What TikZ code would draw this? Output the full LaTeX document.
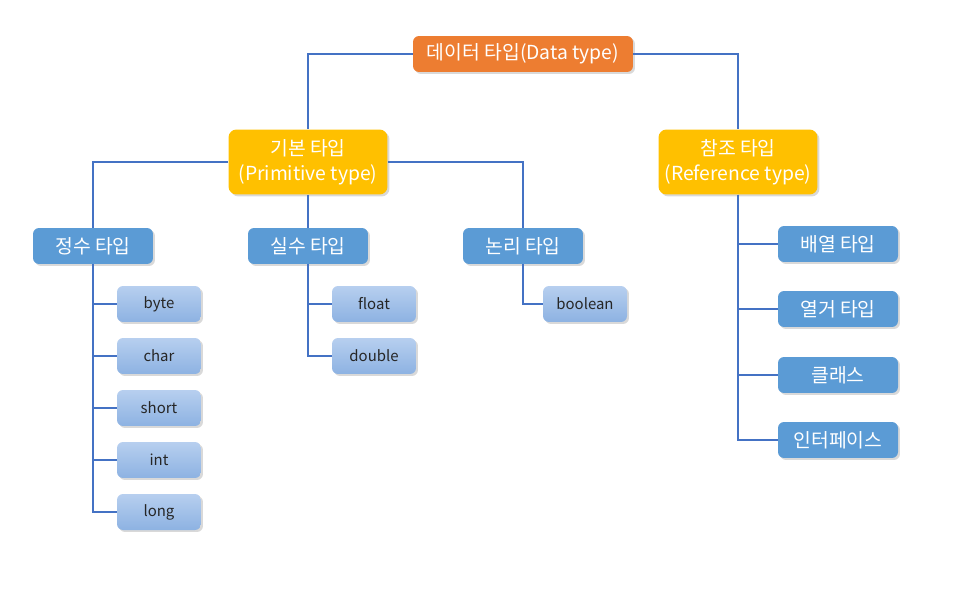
\documentclass[tikz,border=0pt]{standalone}
\usepackage{fontspec}
\setmainfont{Noto Sans CJK KR}
\usetikzlibrary{calc, shadows}
\definecolor{myorange}{HTML}{ED7D31}
\definecolor{myyellow}{HTML}{FFC000}
\definecolor{myblue}{HTML}{5B9BD5}
\definecolor{myleaftop}{HTML}{B7CFEF}
\definecolor{myleafbot}{HTML}{8DB2E2}
\definecolor{mylinecolor}{HTML}{4472C4}
\tikzset{
	myblockroot/.style={rectangle, fill=myorange, rounded corners=1.2mm, minimum width=4.4cm, minimum height=0.72cm,
				inner sep=0.05cm, text centered, align=center, font=\fontsize{11}{13}\selectfont, text=white,
				drop shadow={shadow xshift=0.04cm, shadow yshift=-0.04cm, opacity=0.3}
				},
	myblockkind/.style={rectangle, fill=myyellow, rounded corners=1.6mm, minimum width=3.18cm, minimum height=1.3cm,
				inner sep=0.05cm, text centered, align=center, font=\fontsize{11}{14}\selectfont, text=white,
				drop shadow={shadow xshift=0.04cm, shadow yshift=-0.04cm, opacity=0.3}
				},
	myblockgroup/.style={rectangle, fill=myblue, rounded corners=1.2mm, minimum width=2.4cm, minimum height=0.72cm,
				inner sep=0.05cm, text centered, align=center, font=\fontsize{11}{13}\selectfont, text=white,
				drop shadow={shadow xshift=0.04cm, shadow yshift=-0.04cm, opacity=0.3}
				},
	myblockleaf/.style={rectangle, top color=myleaftop, bottom color=myleafbot, rounded corners=1.2mm,
				minimum width=1.68cm, minimum height=0.72cm,
				inner sep=0.05cm, text centered, align=center, font=\fontsize{8.5}{10}\selectfont, text=black!85,
				drop shadow={shadow xshift=0.04cm, shadow yshift=-0.04cm, opacity=0.3}
				},
	myline/.style={mylinecolor, line width=0.8pt}
	}

\begin{document}
\begin{tikzpicture}[x=0.02cm, y=-0.02cm]

	\useasboundingbox (0,0) rectangle (970,601);

	% top level
	\node[myblockroot] (datatype) at (523,54) {데이터 타입(Data type)};

	\node[myblockkind] (primitive) at (308,162) {기본 타입\\(Primitive type)};
	\node[myblockkind] (reference) at (738,162) {참조 타입\\(Reference type)};

	% primitive groups
	\node[myblockgroup] (intgrp) at (93,246) {정수 타입};
	\node[myblockgroup] (realgrp) at (308,246) {실수 타입};
	\node[myblockgroup] (boolgrp) at (523,246) {논리 타입};

	\node[myblockleaf] (tbyte) at (159,304) {byte};
	\node[myblockleaf] (tchar) at (159,356) {char};
	\node[myblockleaf] (tshort) at (159,408) {short};
	\node[myblockleaf] (tint) at (159,460) {int};
	\node[myblockleaf] (tlong) at (159,512) {long};

	\node[myblockleaf] (tfloat) at (374,304) {float};
	\node[myblockleaf] (tdouble) at (374,356) {double};

	\node[myblockleaf] (tboolean) at (585,304) {boolean};

	% reference kinds
	\node[myblockgroup] (rarray) at (838,244) {배열 타입};
	\node[myblockgroup] (renum) at (838,309) {열거 타입};
	\node[myblockgroup] (rclass) at (838,375) {클래스};
	\node[myblockgroup] (rinterface) at (838,440) {인터페이스};

	% connectors
	\draw[myline] (datatype.west) -| (primitive.north);
	\draw[myline] (datatype.east) -| (reference.north);

	\draw[myline] (primitive.west) -| (intgrp.north);
	\draw[myline] (primitive.south) -- (realgrp.north);
	\draw[myline] (primitive.east) -| (boolgrp.north);

	\foreach \leaf in {tbyte, tchar, tshort, tint, tlong}
		\draw[myline] (intgrp.south) |- (\leaf.west);
	\foreach \leaf in {tfloat, tdouble}
		\draw[myline] (realgrp.south) |- (\leaf.west);
	\draw[myline] (boolgrp.south) |- (tboolean.west);

	\foreach \leaf in {rarray, renum, rclass, rinterface}
		\draw[myline] (reference.south) |- (\leaf.west);

\end{tikzpicture}
\end{document}
